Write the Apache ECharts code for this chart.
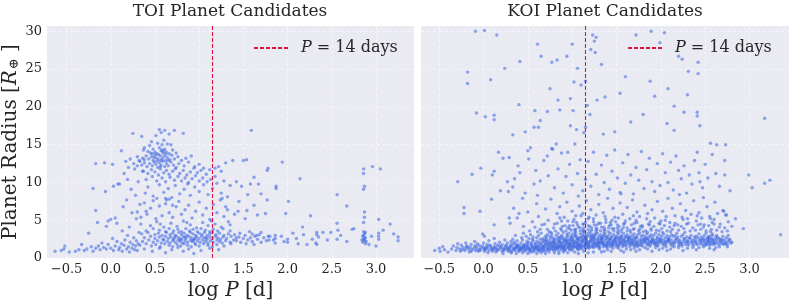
<!DOCTYPE html>
<html><head><meta charset="utf-8">
<script src="https://cdn.jsdelivr.net/npm/echarts@6/dist/echarts.min.js"></script>
<style>html,body{margin:0;padding:0;background:#fff}#c{width:793px;height:306px}</style>
</head><body><div id="c"></div>
<script>
// ---------- data ----------
const xTicks = [-0.5, 0, 0.5, 1, 1.5, 2, 2.5, 3];
const yTicks = [0, 5, 10, 15, 20, 25, 30];
const panelTitles = ['TOI Planet Candidates', 'KOI Planet Candidates'];
const periodLineDays = 14;
const legendLabel = 'P = 14 days';

// TOI candidates: [log10 P (days), radius (Earth radii)]
const toiPoints = [
[-0.63,0.9],[-0.56,1.0],[-0.53,1.2],[-0.52,1.6],[-0.47,0.8],[-0.4,0.9],[-0.36,1.1],[-0.33,1.8],[-0.3,1.0],[-0.27,1.2],[-0.25,3.3],[-0.22,1.5],[-0.2,0.9],[-0.17,1.3],[-0.14,1.6],[-0.12,1.1],[-0.1,2.0],[-0.08,1.4],[-0.05,1.2],[-0.03,1.8],[0.0,1.3],[0.02,2.6],[0.03,1.0],[0.05,1.6],[0.07,2.2],[0.09,1.1],[0.1,1.4],[0.12,1.9],[0.13,0.9],[0.15,1.7],[0.16,2.4],[0.18,1.2],[0.19,3.0],[0.2,1.5],[0.21,0.8],[0.22,2.1],[0.24,1.3],[0.25,1.8],[0.26,2.7],[0.27,1.1],[0.28,1.6],[0.29,2.3],[0.3,1.0],[0.31,1.9],[0.32,3.4],
[-0.2,9.2],[-0.17,6.3],[-0.15,4.7],[-0.17,12.5],[-0.07,12.6],[-0.06,8.8],[-0.05,4.2],[-0.03,4.9],[0.0,5.1],[0.02,12.4],[0.03,9.5],[0.05,5.3],[0.07,4.6],[0.08,9.8],[0.1,9.8],[0.12,14.2],[0.13,3.6],[0.14,6.8],[0.15,11.2],[0.17,12.8],[0.18,7.7],[0.19,10.4],[0.2,12.0],[0.21,4.1],[0.22,13.1],[0.23,9.1],[0.24,6.0],[0.25,16.5],[0.26,12.5],[0.27,11.8],[0.28,8.3],[0.29,5.2],[0.3,13.4],[0.31,10.1],[0.32,12.9],[0.33,7.1],[0.34,4.5],[0.35,16.1],[0.36,11.5],[0.37,14.3],[0.38,13.0],[0.39,8.6],[0.4,6.2],
[0.42,14.1],[0.45,13.9],[0.48,14.4],[0.5,14.0],[0.52,13.8],[0.55,14.6],[0.57,14.2],[0.59,13.9],[0.61,14.4],[0.63,14.0],[0.66,13.8],[0.7,14.3],[0.74,13.9],[0.38,14.6],[0.53,15.2],[0.58,15.0],[0.46,15.4],[0.6,15.6],[0.64,15.1],[0.51,16.2],[0.55,17.0],[0.57,16.6],[0.61,16.9],[0.66,16.4],[0.72,16.9],[0.82,16.5],[0.44,14.9],[0.68,15.0],
[0.36,13.2],[0.4,13.5],[0.43,13.1],[0.46,13.4],[0.48,12.9],[0.5,13.6],[0.52,13.2],[0.54,13.0],[0.56,13.5],[0.58,13.1],[0.6,13.4],[0.62,12.9],[0.64,13.3],[0.67,13.0],[0.69,13.6],[0.72,13.1],[0.76,13.4],[0.8,12.9],[0.85,13.2],[0.91,13.5],[0.33,12.8],
[0.35,12.3],[0.38,12.6],[0.41,12.1],[0.44,12.5],[0.47,12.2],[0.49,12.7],[0.51,12.4],[0.53,12.0],[0.55,12.6],[0.57,12.3],[0.59,12.8],[0.61,12.1],[0.63,12.5],[0.65,12.2],[0.68,12.7],[0.71,12.3],[0.74,12.0],[0.77,12.5],[0.83,12.2],[0.88,12.7],[0.95,12.1],[1.0,12.4],[1.05,11.9],[0.3,12.2],
[0.54,13.7],[0.57,12.9],[0.6,14.1],[0.49,13.3],[0.62,13.7],[0.52,12.8],[0.65,12.9],[0.58,14.3],[0.47,13.8],[0.56,12.1],
[0.37,11.5],[0.42,11.2],[0.46,11.7],[0.5,11.4],[0.54,11.0],[0.56,11.8],[0.6,11.3],[0.63,11.6],[0.66,11.1],[0.7,11.5],[0.73,11.8],[0.78,11.2],[0.82,11.6],[0.86,11.0],[0.9,11.4],[0.94,11.9],[0.98,11.3],[1.02,11.6],[1.08,11.1],[1.12,11.7],
[0.4,10.4],[0.47,10.8],[0.52,10.2],[0.58,10.6],[0.62,10.1],[0.67,10.7],[0.72,10.3],[0.76,10.8],[0.8,10.2],[0.84,10.6],[0.88,10.0],[0.92,10.5],[0.96,10.9],[1.0,10.2],[1.04,10.6],[1.09,10.1],[1.13,10.4],[1.18,10.8],
[0.42,9.4],[0.48,8.2],[0.55,9.7],[0.6,8.7],[0.65,9.2],[0.69,8.0],[0.73,9.6],[0.78,8.5],[0.83,9.1],[0.87,9.8],[0.9,8.3],[0.95,9.4],[1.0,8.8],[1.05,9.7],[1.1,8.4],[1.15,9.2],[1.2,9.9],[1.25,8.6],[0.62,7.9],[0.63,7.7],[0.66,7.8],
[0.3,6.1],[0.34,5.4],[0.38,7.3],[0.41,5.8],[0.45,6.6],[0.48,7.6],[0.51,5.2],[0.55,6.9],[0.58,5.6],[0.62,7.2],[0.66,6.0],[0.7,5.4],[0.74,6.8],[0.77,7.5],[0.8,5.8],[0.84,6.4],[0.88,7.0],[0.92,5.3],[0.96,6.2],[1.0,7.4],[1.04,5.7],[1.08,6.6],[1.12,5.1],[1.16,7.1],[1.2,6.0],[1.24,7.7],[1.28,5.5],[1.32,6.4],[0.52,7.9],[0.7,7.0],
[0.45,4.3],[0.52,4.8],[0.6,4.1],[0.68,4.6],[0.75,4.2],[0.82,4.9],[0.9,4.4],[0.97,4.0],[1.04,4.7],[1.1,4.3],[1.18,4.5],[1.25,4.1],[1.33,4.8],[0.56,4.5],[0.86,4.7],[1.14,4.9],
[0.4,3.6],[0.48,3.9],[0.55,3.7],[0.62,3.5],[0.66,3.9],[0.71,3.6],[0.76,3.8],[0.8,3.5],[0.85,3.9],[0.89,3.6],[0.93,3.8],[0.98,3.5],[1.02,3.9],[1.07,3.7],[1.12,3.5],[1.16,3.8],[1.21,3.6],[1.27,3.9],[1.35,3.6],
[0.35,3.2],[0.42,3.4],[0.5,3.1],[0.54,3.3],[0.58,3.0],[0.63,3.4],[0.67,3.1],[0.7,3.3],[0.73,3.0],[0.77,3.4],[0.8,3.1],[0.83,3.3],[0.86,3.0],[0.9,3.4],[0.93,3.2],[0.96,3.0],[1.0,3.3],[1.03,3.1],[1.06,3.4],[1.09,3.0],[1.12,3.2],[1.15,3.4],[1.19,3.1],[1.23,3.3],[1.28,3.0],[1.33,3.2],[1.4,3.1],
[0.38,2.7],[0.45,2.9],[0.5,2.6],[0.55,2.8],[0.59,2.5],[0.62,2.9],[0.65,2.6],[0.68,2.8],[0.71,2.5],[0.74,2.9],[0.77,2.7],[0.79,2.5],[0.82,2.8],[0.85,2.6],[0.88,2.9],[0.91,2.7],[0.94,2.5],[0.97,2.8],[1.0,2.6],[1.03,2.9],[1.06,2.7],[1.09,2.5],[1.12,2.8],[1.15,2.6],[1.18,2.9],[1.21,2.7],[1.24,2.5],[1.27,2.8],[1.31,2.6],[1.36,2.9],[1.42,2.7],[0.72,2.7],[0.84,2.8],[0.95,2.6],[1.08,2.7],
[0.36,2.2],[0.43,2.4],[0.48,2.1],[0.53,2.3],[0.57,2.0],[0.6,2.4],[0.64,2.2],[0.67,2.0],[0.7,2.3],[0.73,2.1],[0.76,2.4],[0.78,2.2],[0.81,2.0],[0.84,2.3],[0.87,2.1],[0.9,2.4],[0.92,2.2],[0.95,2.0],[0.98,2.3],[1.01,2.1],[1.04,2.4],[1.07,2.2],[1.1,2.0],[1.13,2.3],[1.16,2.1],[1.2,2.4],[1.23,2.2],[1.26,2.0],[1.3,2.3],[1.35,2.1],[1.39,2.4],[0.8,2.45],[0.93,2.35],
[0.33,1.7],[0.4,1.9],[0.46,1.6],[0.51,1.8],[0.56,1.5],[0.61,1.9],[0.66,1.7],[0.7,1.5],[0.75,1.8],[0.79,1.6],[0.83,1.9],[0.87,1.7],[0.91,1.5],[0.96,1.8],[1.0,1.6],[1.05,1.9],[1.1,1.7],[1.15,1.5],[1.2,1.8],[1.28,1.6],[1.36,1.9],
[0.38,1.2],[0.47,0.9],[0.55,1.3],[0.62,0.7],[0.69,1.1],[0.76,1.4],[0.82,0.9],[0.88,1.2],[0.94,0.6],[1.02,1.0],[1.12,1.3],[1.22,1.1],
[1.42,2.3],[1.45,2.8],[1.47,2.1],[1.5,2.6],[1.52,3.0],[1.55,2.4],[1.58,2.7],[1.6,2.2],[1.63,2.9],[1.66,2.5],[1.7,2.1],[1.73,2.7],[1.76,2.3],[1.8,2.9],[1.84,2.4],[1.46,3.3],[1.57,3.5],[1.62,1.8],[1.68,3.1],[1.53,1.9],
[1.22,12.1],[1.25,11.5],[1.3,12.6],[1.18,11.9],[1.28,10.2],[1.35,9.6],[1.38,12.9],[1.42,10.1],[1.48,9.5],[1.5,12.9],[1.32,8.1],[1.45,7.5],[1.55,8.4],[1.4,5.8],[1.52,5.2],[1.35,4.4],[1.26,7.9],[1.3,6.8],[1.44,6.2],[1.58,9.8],[1.62,10.7],[1.54,6.3],[1.62,7.0],
[2.86,11.8],[2.86,11.2],[2.96,12.1],[3.05,11.8],[2.87,9.5],[2.86,9.1],[2.87,6.1],[2.87,5.4],[2.86,4.7],[3.03,5.1],[3.16,4.5],[3.2,3.2],[3.25,2.8],[3.25,2.3],[3.03,3.3],[3.03,2.9],[3.03,2.5],[2.86,3.5],[2.87,3.2],[2.85,2.9],[2.88,2.7],[2.86,2.5],[2.87,2.3],[2.85,2.1],[2.88,1.9],[2.86,3.0],[2.87,2.6],[2.84,2.4],[2.89,2.2],[2.88,3.4],[2.92,1.8],[2.75,3.9],[2.73,3.8],[2.56,4.6],[2.57,3.7],[2.56,2.5],[2.49,3.4],[2.4,3.4],[2.35,2.8],[2.33,3.4],[2.33,3.1],[2.32,2.0],[2.33,1.8],[2.22,1.8],[2.17,4.1],[2.18,3.1],[2.0,2.5],[2.0,2.1],[1.86,3.0],[1.86,2.6],[1.86,2.0],[1.78,2.9],[1.79,2.4],[1.65,3.0],[1.7,3.4],[1.6,3.2],
[1.59,16.9],[1.535,13.0],[1.78,11.9],[1.77,11.6],[1.94,12.7],[2.14,10.5],[1.87,9.5],[1.87,9.2],[1.67,9.8],[1.7,8.5],[1.77,7.7],[2.01,7.5],[1.98,5.9],[1.66,5.7],[1.75,5.9],[2.26,5.6],[2.56,8.4],[2.67,6.9],[1.93,2.9],[2.1,2.6],[2.06,3.3],[2.45,2.4],[2.6,3.0],[2.67,2.2],[3.08,3.7],[2.95,2.9],[3.0,1.6],[2.28,2.5],[2.12,1.9],[1.96,2.2]
];

// KOI candidates: [log10 P (days), radius (Earth radii)]
const koiPoints = [
[-0.55,1.0],[-0.5,1.3],[-0.49,0.9],[-0.46,1.5],[-0.44,1.1],[-0.4,0.8],[-0.36,1.2],[-0.34,1.6],[-0.31,1.0],[-0.3,1.4],[-0.29,1.9],[-0.27,1.2],[-0.26,0.9],[-0.25,1.7],[-0.24,1.1],[-0.23,1.4],[-0.21,1.0],[-0.2,1.3],[-0.2,2.0],[-0.19,1.6],[-0.17,1.2],[-0.16,0.8],[-0.18,1.5],[-0.14,1.8],[-0.13,1.1],[-0.15,1.4],[-0.14,0.9],[-0.11,1.3],[-0.1,1.6],[-0.09,1.0],[-0.1,2.2],[-0.07,1.2],[-0.08,1.5],[-0.06,0.9],[-0.07,1.9],[-0.04,1.1],[-0.03,1.4],[-0.05,1.7],[-0.04,1.0],
[0.0,1.3],[-0.01,1.6],[0.01,0.9],[0.0,2.0],[0.01,1.2],[0.03,1.5],[0.02,1.1],[0.04,1.8],[0.03,1.3],[0.06,1.0],[0.05,1.4],[0.07,1.7],[0.06,2.3],[0.09,1.2],[0.08,1.6],[0.1,0.9],[0.09,1.3],[0.12,1.5],[0.11,1.1],[0.13,1.9],[0.12,1.3],[0.12,2.6],[0.15,1.0],[0.14,1.4],[0.16,1.7],[0.15,1.2],[0.18,1.6],[0.17,1.1],[0.19,1.3],[0.18,2.1],[0.21,0.9],[0.2,1.5],[0.22,1.2],[0.21,1.8],[0.24,1.4],[0.23,1.0],[0.25,1.7],[0.24,1.2],[0.24,2.4],[0.27,1.3],[0.26,1.6],[0.28,0.9],[0.27,1.1],[0.27,2.0],
[0.3,1.5],[0.29,1.2],[0.31,1.8],[0.3,1.0],[0.31,2.2],[0.29,1.4],[0.33,1.1],[0.32,1.6],[0.34,1.3],[0.33,2.5],[0.32,0.8],[0.34,1.9],[0.36,1.4],[0.35,1.2],[0.37,1.7],[0.36,1.0],[0.35,2.1],[0.37,1.5],[0.36,3.0],[0.39,1.3],[0.38,1.8],[0.4,1.1],[0.39,1.5],[0.38,2.3],[0.4,0.9],[0.39,1.6],[0.42,1.2],[0.41,1.6],[0.43,1.4],[0.42,2.0],[0.41,1.0],[0.43,2.7],[0.42,1.3],[0.45,1.5],[0.44,1.1],[0.46,1.8],[0.45,1.3],[0.44,2.4],[0.46,0.9],[0.45,1.7],[0.45,3.3],[0.48,1.4],[0.47,1.2],[0.49,1.9],[0.48,1.0],[0.47,1.6],[0.49,2.2],[0.48,2.9],
[0.51,1.3],[0.5,1.7],[0.52,1.1],[0.51,2.1],[0.5,1.5],[0.52,0.8],[0.51,2.6],[0.5,1.2],[0.54,1.6],[0.53,1.0],[0.55,1.4],[0.54,2.0],[0.53,1.2],[0.55,2.5],[0.54,1.8],[0.53,3.1],[0.57,1.2],[0.56,1.5],[0.58,1.9],[0.57,1.1],[0.56,2.3],[0.58,1.4],[0.57,0.9],[0.56,2.8],[0.6,1.4],[0.59,1.8],[0.61,1.0],[0.6,2.2],[0.59,1.6],[0.61,1.2],[0.6,2.7],[0.61,3.5],[0.59,1.3],[0.63,1.3],[0.62,1.7],[0.64,2.0],[0.63,1.1],[0.62,1.5],[0.64,2.5],[0.63,0.9],[0.62,3.0],[0.66,1.6],[0.65,1.2],[0.67,2.1],[0.66,1.4],[0.65,1.8],[0.67,2.6],[0.66,1.0],[0.65,3.3],[0.67,2.3],[0.69,1.5],[0.68,1.1],[0.7,1.9],[0.69,2.4],[0.68,1.3],[0.7,2.9],[0.69,1.7],[0.68,0.9],[0.7,2.2],
[0.72,1.4],[0.71,1.8],[0.73,2.2],[0.72,1.2],[0.71,2.7],[0.73,1.6],[0.72,3.1],[0.71,1.0],[0.73,2.0],[0.72,3.8],[0.75,1.7],[0.74,1.3],[0.76,2.1],[0.75,2.5],[0.74,1.1],[0.76,1.5],[0.75,2.9],[0.74,1.9],[0.76,3.4],[0.78,1.5],[0.77,1.9],[0.79,2.3],[0.78,1.2],[0.77,2.8],[0.79,1.4],[0.78,1.7],[0.77,3.2],[0.79,1.0],[0.78,2.1],[0.81,1.6],[0.8,2.0],[0.82,1.3],[0.81,2.5],[0.8,1.8],[0.82,3.0],[0.81,1.1],[0.8,2.2],[0.82,1.4],[0.81,3.6],[0.84,1.4],[0.83,1.8],[0.85,2.2],[0.84,2.7],[0.83,1.2],[0.85,1.6],[0.84,3.3],[0.83,2.0],[0.85,0.9],[0.84,2.4],
[0.87,1.7],[0.86,2.1],[0.88,1.5],[0.87,2.6],[0.86,1.3],[0.88,3.0],[0.87,1.9],[0.86,2.3],[0.88,1.1],[0.87,3.9],[0.86,1.6],[0.9,1.5],[0.89,1.9],[0.91,2.4],[0.9,1.3],[0.89,2.8],[0.91,1.7],[0.9,3.4],[0.89,2.1],[0.91,1.1],[0.9,2.5],[0.89,4.2],[0.93,1.8],[0.92,2.2],[0.94,1.4],[0.93,2.7],[0.92,1.6],[0.94,3.1],[0.93,2.0],[0.92,1.2],[0.94,2.4],[0.93,3.6],[0.92,1.0],[0.96,1.6],[0.95,2.0],[0.97,2.5],[0.96,1.3],[0.95,2.9],[0.97,1.8],[0.96,3.3],[0.95,2.2],[0.97,1.1],[0.96,1.5],[0.95,4.0],[0.99,1.7],[0.98,2.3],[1.0,1.4],[0.99,2.7],[0.98,1.9],[1.0,3.2],[0.99,2.1],[0.98,1.2],[1.0,2.5],[0.99,3.7],[0.98,1.5],[1.0,1.0],
[1.02,1.9],[1.01,2.4],[1.03,1.5],[1.02,2.8],[1.01,1.3],[1.03,3.1],[1.02,2.2],[1.01,1.7],[1.03,3.5],[1.02,2.0],[1.01,4.3],[1.05,1.6],[1.04,2.1],[1.06,2.6],[1.05,1.4],[1.04,3.0],[1.06,1.8],[1.05,2.4],[1.04,3.4],[1.06,1.2],[1.05,2.0],[1.04,3.8],[1.06,1.5],[1.08,1.8],[1.07,2.3],[1.09,1.5],[1.08,2.7],[1.07,2.0],[1.09,3.2],[1.08,1.3],[1.07,2.5],[1.09,3.6],[1.08,1.7],[1.07,4.1],[1.11,2.0],[1.1,1.6],[1.12,2.5],[1.11,2.9],[1.1,1.4],[1.12,3.3],[1.11,2.2],[1.1,1.8],[1.12,3.7],[1.11,1.2],[1.1,2.7],[1.12,4.5],[1.14,1.7],[1.13,2.2],[1.15,2.6],[1.14,1.5],[1.13,3.0],[1.15,1.9],[1.14,3.5],[1.13,2.4],[1.15,1.3],[1.14,2.8],[1.13,4.0],
[1.17,1.9],[1.16,2.4],[1.18,1.6],[1.17,2.9],[1.16,2.1],[1.18,3.3],[1.17,1.4],[1.16,2.6],[1.18,3.8],[1.17,1.8],[1.16,2.2],[1.2,2.1],[1.19,1.7],[1.21,2.6],[1.2,3.0],[1.19,1.5],[1.21,2.3],[1.2,3.5],[1.19,1.9],[1.21,2.8],[1.2,4.2],[1.19,1.3],[1.23,1.8],[1.22,2.3],[1.24,2.8],[1.23,1.6],[1.22,3.2],[1.24,2.0],[1.23,2.5],[1.22,3.7],[1.24,1.4],[1.23,2.9],[1.26,2.0],[1.25,2.5],[1.27,1.7],[1.26,3.0],[1.25,2.2],[1.27,3.4],[1.26,1.5],[1.25,2.7],[1.27,4.0],[1.26,1.9],[1.29,1.9],[1.28,2.4],[1.3,2.9],[1.29,1.6],[1.28,3.3],[1.3,2.1],[1.29,2.6],[1.28,3.8],[1.3,1.4],[1.29,2.2],[1.28,4.4],
[1.32,2.1],[1.31,1.8],[1.33,2.6],[1.32,3.1],[1.31,1.5],[1.33,2.3],[1.32,3.6],[1.31,2.0],[1.33,2.8],[1.35,2.0],[1.34,2.5],[1.36,1.7],[1.35,3.0],[1.34,2.2],[1.36,3.4],[1.35,1.5],[1.34,2.7],[1.36,4.1],[1.35,1.9],[1.38,1.8],[1.37,2.3],[1.39,2.8],[1.38,1.6],[1.37,3.2],[1.39,2.0],[1.38,2.6],[1.37,3.7],[1.39,1.4],[1.41,2.1],[1.4,2.6],[1.42,1.9],[1.41,3.0],[1.4,1.6],[1.42,2.4],[1.41,3.5],[1.4,2.2],[1.42,4.3],[1.44,1.9],[1.43,2.4],[1.45,2.9],[1.44,1.7],[1.43,3.3],[1.45,2.1],[1.44,2.7],[1.43,1.5],[1.45,3.9],[1.47,2.2],[1.46,1.8],[1.48,2.6],[1.47,3.1],[1.46,2.0],[1.48,2.4],[1.47,3.6],[1.46,1.6],
[1.5,2.0],[1.49,2.5],[1.51,1.7],[1.5,2.9],[1.49,2.2],[1.51,3.4],[1.5,1.5],[1.49,2.7],[1.51,4.0],[1.53,1.9],[1.52,2.3],[1.54,2.8],[1.53,1.6],[1.52,3.2],[1.54,2.1],[1.53,2.5],[1.52,3.7],[1.56,2.1],[1.55,2.6],[1.57,1.8],[1.56,3.0],[1.55,2.3],[1.57,1.5],[1.56,2.8],[1.55,3.5],[1.59,2.0],[1.58,2.4],[1.6,2.9],[1.59,1.7],[1.58,3.3],[1.6,2.2],[1.59,2.6],[1.58,4.1],[1.62,2.2],[1.61,1.9],[1.63,2.7],[1.62,3.1],[1.61,1.6],[1.63,2.4],[1.62,3.6],[1.65,2.0],[1.64,2.5],[1.66,1.8],[1.65,2.9],[1.64,2.3],[1.66,3.4],[1.65,1.5],[1.64,2.7],[1.68,2.1],[1.67,2.6],[1.69,1.7],[1.68,3.0],[1.67,2.4],[1.69,3.8],[1.68,1.9],
[1.71,1.9],[1.7,2.3],[1.72,2.8],[1.71,1.6],[1.7,3.2],[1.72,2.1],[1.71,2.5],[1.74,2.2],[1.73,2.7],[1.75,1.8],[1.74,3.1],[1.73,2.0],[1.75,3.6],[1.74,1.5],[1.77,2.0],[1.76,2.4],[1.78,2.9],[1.77,1.7],[1.76,3.3],[1.78,2.2],[1.77,4.2],[1.8,2.3],[1.79,1.9],[1.81,2.6],[1.8,3.0],[1.79,1.6],[1.81,2.1],[1.8,3.5],[1.83,2.1],[1.82,2.5],[1.84,1.8],[1.83,2.8],[1.82,2.3],[1.84,3.2],[1.86,2.0],[1.85,2.4],[1.87,2.9],[1.86,1.7],[1.85,3.4],[1.87,2.2],[1.86,2.6],[1.89,2.2],[1.88,1.9],[1.9,2.7],[1.89,3.1],[1.88,1.6],[1.9,2.4],[1.89,3.7],
[1.92,2.1],[1.91,2.5],[1.93,1.8],[1.92,3.0],[1.91,2.3],[1.93,2.0],[1.95,2.0],[1.94,2.4],[1.96,2.8],[1.95,1.7],[1.94,3.3],[1.96,2.2],[1.98,2.3],[1.97,1.9],[1.99,2.6],[1.98,3.1],[1.97,1.6],[1.99,2.1],[1.98,3.6],[2.01,2.1],[2.0,2.5],[2.02,1.8],[2.01,2.9],[2.0,2.3],[2.02,3.4],[2.04,2.0],[2.03,2.4],[2.05,2.7],[2.04,1.7],[2.03,3.2],[2.05,2.2],[2.07,2.2],[2.06,1.9],[2.08,2.6],[2.07,3.0],[2.06,1.5],[2.08,2.4],[2.1,2.1],[2.09,2.5],[2.11,1.8],[2.1,2.8],[2.09,2.3],[2.11,3.5],
[2.13,2.0],[2.12,2.4],[2.14,2.9],[2.13,1.6],[2.12,3.1],[2.16,2.3],[2.15,1.9],[2.17,2.6],[2.16,3.0],[2.15,2.1],[2.19,2.1],[2.18,2.5],[2.2,1.7],[2.19,2.8],[2.18,3.3],[2.22,2.0],[2.21,2.4],[2.23,2.9],[2.22,1.8],[2.21,2.2],[2.25,2.2],[2.24,1.9],[2.26,2.6],[2.25,3.1],[2.24,1.6],[2.28,2.1],[2.27,2.5],[2.29,2.8],[2.28,1.8],[2.27,3.4],[2.31,2.0],[2.3,2.3],[2.32,2.7],[2.31,1.7],[2.3,2.2],[2.34,2.2],[2.33,2.6],[2.35,1.9],[2.34,3.0],[2.37,2.1],[2.36,2.4],[2.38,2.8],[2.37,1.7],
[2.4,2.0],[2.39,2.5],[2.41,1.8],[2.4,2.9],[2.39,2.2],[2.43,2.3],[2.42,2.7],[2.44,1.9],[2.43,3.2],[2.46,2.1],[2.45,2.5],[2.47,1.8],[2.46,2.8],[2.45,2.3],[2.49,2.2],[2.48,2.6],[2.5,1.9],[2.49,3.0],[2.48,2.4],[2.5,1.7],[2.52,2.0],[2.51,2.4],[2.53,2.8],[2.52,1.8],[2.51,3.3],[2.53,2.2],[2.52,2.6],[2.55,2.1],[2.54,2.5],[2.56,1.9],[2.55,2.9],[2.54,2.3],[2.56,3.5],[2.55,1.7],[2.54,2.7],[2.58,2.2],[2.57,2.6],[2.59,1.8],[2.58,3.0],[2.57,2.4],[2.59,2.0],[2.58,3.2],
[2.61,2.0],[2.6,2.5],[2.62,2.8],[2.61,1.9],[2.6,2.3],[2.64,2.1],[2.63,2.4],[2.65,1.8],[2.64,2.7],[2.63,3.0],[2.67,2.2],[2.66,2.6],[2.68,1.9],[2.67,2.4],[2.7,2.0],[2.69,2.5],[2.71,1.8],[2.7,2.9],[2.69,2.3],[2.73,2.1],[2.72,2.4],[2.74,2.7],[2.73,1.9],[2.76,2.2],[2.75,1.8],[2.77,2.5],[2.76,3.0],[2.79,2.0],[2.78,2.4],[2.8,2.1],
[1.31,1.2],[1.4,1.1],[1.46,1.3],[1.55,1.0],[1.61,1.2],[1.7,1.3],[1.76,1.1],[1.85,1.2],[1.94,1.4],[2.02,1.3],[2.11,1.2],[2.2,1.4],[2.3,1.3],[2.43,1.4],[2.55,1.3],[2.66,1.5],[1.36,0.9],[1.52,1.3],[1.66,1.1],[1.82,1.4],[1.98,1.1],[2.15,1.5],[2.36,1.4],[2.48,1.5],[2.62,1.4],[2.75,1.5],
[0.52,3.6],[0.58,4.1],[0.64,3.8],[0.69,4.5],[0.74,3.5],[0.79,4.0],[0.83,4.6],[0.88,3.7],[0.92,4.3],[0.97,3.9],[1.01,4.8],[1.03,3.8],[1.06,4.4],[1.09,4.0],[1.13,3.6],[1.15,4.7],[1.18,4.3],[1.22,4.0],[1.24,5.2],[1.27,3.7],[1.3,4.6],[1.33,4.1],[1.36,3.8],[1.38,4.7],[1.41,4.0],[1.44,4.4],[1.47,3.9],[1.49,4.8],[1.53,4.2],[1.56,3.8],[1.59,4.6],[1.62,4.0],[1.65,3.7],[1.67,4.4],[1.7,3.9],[1.73,4.7],[1.76,3.8],[1.79,4.1],[1.83,3.6],[1.86,4.5],[1.89,3.9],[1.92,4.2],[1.95,3.7],[1.98,4.6],[2.01,3.9],[2.04,4.3],[2.07,3.6],[2.1,4.1],[2.13,3.8],[2.16,4.6],[2.2,3.7],[2.23,4.2],[2.26,3.9],[2.29,4.5],[2.33,3.6],[2.36,4.0],[2.39,3.7],[2.42,4.4],[2.45,3.8],[2.48,4.1],[2.51,3.6],[2.54,4.3],[2.57,3.8],[2.6,4.5],[2.63,3.7],[2.66,4.1],[2.69,3.5],[2.72,4.0],[2.75,3.6],[0.86,5.3],[1.04,5.6],[1.19,5.4],[1.37,5.5],[1.52,5.3],[1.69,5.6],[1.84,5.2],[2.06,5.5],[2.24,5.4],[2.41,5.6],[2.56,5.2],
[0.05,0.7],[0.14,0.8],[0.22,0.6],[0.31,0.7],[0.37,0.6],[0.44,0.7],[0.5,0.6],[0.55,0.8],[0.6,0.6],[0.65,0.7],[0.7,0.6],[0.74,0.8],[0.8,0.7],[0.85,0.6],[0.9,0.8],[0.95,0.7],[1.03,0.8],[1.07,0.6],[1.13,0.9],[1.18,0.7],[1.24,0.8],[1.33,0.8],[1.44,0.9],[1.58,0.8],[1.72,0.9],[1.9,0.9],[2.07,1.0],[2.25,1.0],[2.4,1.1],[2.6,1.1],
[0.62,2.1],[0.67,1.5],[0.71,2.4],[0.76,1.2],[0.79,2.6],[0.83,1.5],[0.86,2.8],[0.89,1.4],[0.93,2.3],[0.96,1.9],[0.99,2.9],[1.02,1.6],[1.05,2.8],[1.07,1.1],[1.1,2.3],[1.13,1.6],[1.16,3.0],[1.19,2.2],[1.22,1.5],[1.25,3.1],[1.28,1.8],[1.31,2.5],[1.34,1.9],[1.37,2.9],[1.4,1.8],[1.43,2.6],[1.46,2.3],[1.49,1.8],[1.52,2.7],[1.55,1.9],[1.58,2.3],[1.61,2.8],[1.64,1.9],[1.67,2.2],[1.7,2.7],[1.73,1.7],[1.78,2.5],[1.84,2.6],[1.9,2.0],[1.96,2.6],
[0.3,4.6],[0.38,5.3],[0.45,4.2],[0.5,6.1],[0.55,4.8],[0.6,7.2],[0.62,5.5],[0.66,4.4],[0.7,6.5],[0.73,5.0],[0.76,7.8],[0.8,4.5],[0.83,5.9],[0.86,6.8],[0.88,4.9],[0.91,5.4],[0.94,7.4],[0.97,4.3],[1.0,6.2],[1.02,5.1],[1.05,4.7],[1.08,6.9],[1.1,5.6],[1.13,4.5],[1.16,7.6],[1.18,5.2],[1.21,6.4],[1.24,4.8],[1.27,5.7],[1.3,7.1],[1.32,4.6],[1.35,6.0],[1.38,5.1],[1.4,7.9],[1.43,4.7],[1.46,6.6],[1.48,5.4],[1.51,4.4],[1.54,7.3],[1.57,5.8],[1.6,4.9],[1.62,6.7],[1.65,5.2],[1.68,7.7],[1.7,4.6],[1.73,6.1],[1.76,5.5],[1.79,4.3],[1.82,7.0],[1.85,5.9],[1.88,4.8],[1.9,6.4],[1.93,5.3],[1.96,7.5],[1.99,4.5],[2.02,6.2],[2.05,5.0],[2.08,7.9],[2.1,4.7],[2.13,6.6],[2.16,5.6],[2.19,4.4],[2.22,7.2],[2.25,5.1],[2.28,6.3],[2.31,4.6],[2.34,5.8],[2.37,7.6],[2.4,4.9],[2.43,6.0],[2.46,5.3],[2.49,4.4],[2.52,6.8],[2.55,5.5],[2.58,4.7],[2.61,7.4],[2.64,5.9],[2.67,4.5],[2.7,6.3],[2.73,5.7],[2.76,4.8],[2.8,4.2],[0.95,4.9],[1.12,5.9],[1.25,4.4],[1.45,5.0],[1.58,4.5],[1.72,5.0],[1.87,4.4],[2.0,4.9],[2.15,4.3],[2.3,5.2],[2.45,4.5],[2.6,5.1],[1.07,8.2],[1.55,8.5],[2.21,8.4],[2.48,8.0],
[0.22,13.2],[0.29,13.3],[0.19,8.9],[0.27,10.1],[0.28,8.8],[0.35,10.5],[0.39,12.2],[0.41,11.3],[0.33,9.4],[0.5,14.2],[0.53,14.6],[0.51,13.1],[0.57,9.8],[0.59,11.6],[0.64,10.2],[0.68,12.9],[0.72,13.5],[0.73,10.9],[0.78,14.4],[0.8,9.3],[0.84,11.8],[0.88,13.9],[0.9,8.6],[0.93,10.8],[0.97,12.4],[1.0,9.7],[1.03,15.1],[1.06,11.2],[1.09,13.0],[1.12,8.9],[1.15,10.4],[1.18,12.8],[1.21,9.5],[1.24,14.0],[1.27,11.1],[1.3,8.4],[1.33,12.3],[1.36,10.0],[1.39,13.6],[1.42,9.1],[1.45,11.5],[1.48,14.3],[1.51,10.6],[1.54,8.7],[1.57,12.6],[1.6,9.9],[1.63,13.7],[1.66,11.0],[1.69,8.5],[1.72,12.0],[1.75,10.3],[1.78,14.1],[1.81,9.2],[1.84,11.7],[1.87,13.2],[1.9,10.1],[1.93,8.8],[1.96,12.5],[1.99,9.6],[2.02,13.8],[2.05,11.3],[2.08,10.0],[2.11,12.7],[2.14,9.0],[2.17,13.5],[2.2,11.6],[2.23,10.5],[2.26,12.2],[2.29,8.6],[2.32,11.0],[2.35,9.8],[2.38,12.9],[2.41,14.0],[2.43,11.3],[2.44,10.1],[2.47,9.3],[2.5,12.4],[2.53,10.6],[2.56,15.2],[2.58,13.7],[2.62,11.2],[2.63,15.0],[2.66,9.5],[2.72,12.9],[2.72,11.0],[2.73,15.0],[2.78,8.9],[2.99,11.0],[3.03,9.3],[3.17,9.9],[3.23,10.3],[2.93,3.9],[3.35,3.1],[2.84,5.2],[2.74,5.7],[2.71,6.2],[-0.29,10.1],[-0.22,6.7],[-0.22,5.9],[-0.13,11.1],[-0.03,11.9],[-0.04,6.2],[-0.01,3.2],[0.01,2.9],[0.1,11.0],[0.12,11.5],[0.09,7.8],[0.12,4.4],[0.17,14.0],[0.29,5.3],[0.34,6.6],[0.4,5.9],[0.44,7.9],[0.47,8.6],[0.61,8.3],
[-0.09,30.0],[0.01,30.1],[0.15,29.5],[0.61,28.3],[0.65,26.7],[0.41,26.0],[0.24,25.1],[-0.18,24.6],[-0.18,23.1],[-0.08,19.2],[0.02,18.7],[0.12,18.9],[0.12,18.3],[0.08,23.6],[0.77,25.9],[0.83,26.2],[0.94,26.7],[1.06,25.1],[1.02,23.3],[1.1,22.9],[1.15,23.4],[1.23,29.5],[1.25,28.7],[1.27,29.2],[1.21,27.6],[1.26,27.2],[1.72,29.5],[1.89,30.0],[2.04,29.8],[1.99,28.5],[2.2,26.7],[2.24,26.3],[2.42,25.9],[2.31,24.7],[2.42,24.4],[1.88,23.4],[2.08,22.4],[2.3,21.6],[1.93,21.4],[1.37,21.3],[1.28,20.9],[1.54,21.8],[0.75,22.4],[0.84,20.9],[0.98,21.1],[0.4,20.3],[0.58,19.5],[0.72,19.4],[0.86,19.6],[1.01,19.5],[0.64,18.2],[0.98,17.5],[1.05,17.0],[1.13,16.6],[1.15,17.3],[1.48,16.7],[2.15,20.1],[2.26,19.3],[2.41,19.3],[2.41,18.8],[2.44,17.5],[2.07,17.8],[2.15,16.9],[3.17,18.5],[0.47,16.7],[0.57,17.3],[0.62,17.3],[0.33,16.3],[0.77,14.5],[0.82,15.1],[0.95,14.0],[1.33,25.6],[1.6,24.0],[1.66,18.0],[1.8,19.0],[1.17,20.2],[1.2,19.0],[1.35,16.4],[1.0,28.3]
];

// ---------- chart ----------
const FONT = 'DejaVu Serif';
const TXT = '#262626';
const BG = '#EAEAF2';
const POINT = 'rgba(65,105,225,0.72)';
const RED = '#DC143C';
const logP14 = Math.log10(periodLineDays);

const chart = echarts.init(document.getElementById('c'), null, {renderer: 'canvas'});

const grids = [
  {left: 46, top: 26, width: 368, height: 236.7},
  {left: 421, top: 26, width: 368, height: 236.7}
];
const xRanges = [[-0.722, 3.43], [-0.705, 3.445]];

function fmtX(v) { return (v < 0 ? '\u2212' : '') + Math.abs(v).toFixed(1); }

const xAxes = [0, 1].map(i => ({
  type: 'value', gridIndex: i, min: xRanges[i][0], max: xRanges[i][1],
  axisLine: {show: false}, axisTick: {show: false}, splitLine: {show: false},
  axisLabel: {customValues: xTicks, formatter: fmtX, color: TXT, fontFamily: FONT, fontSize: 13, margin: 5},
  name: '{n|log }{i|P}{n| [d]}', nameLocation: 'middle', nameGap: 18,
  nameTextStyle: {color: TXT, fontFamily: FONT, fontSize: 20,
    rich: {n: {fontFamily: FONT, fontSize: 20, color: TXT}, i: {fontFamily: FONT, fontStyle: 'italic', fontSize: 20, color: TXT}}}
}));

const yAxes = [0, 1].map(i => ({
  type: 'value', gridIndex: i, min: 0, max: 30.7,
  axisLine: {show: false}, axisTick: {show: false}, splitLine: {show: false},
  axisLabel: {show: i === 0, customValues: yTicks, color: TXT, fontFamily: FONT, fontSize: 13, margin: 5},
  name: i === 0 ? '{n|Planet Radius [}{i|R}{s|\u2295}{n| ]}' : '',
  nameLocation: 'middle', nameRotate: 90, nameGap: 25,
  nameTextStyle: {color: TXT, fontFamily: FONT, fontSize: 20,
    rich: {
      n: {fontFamily: FONT, fontSize: 20, color: TXT},
      i: {fontFamily: FONT, fontStyle: 'italic', fontSize: 20, color: TXT},
      s: {fontFamily: FONT, fontSize: 13, color: TXT, verticalAlign: 'bottom', padding: [8, 0, 0, 1]}
    }}
}));

function gridLines() {
  return {
    silent: true, symbol: ['none', 'none'], z: 1, animation: false,
    label: {show: false},
    lineStyle: {color: '#ffffff', width: 0.8, type: [3, 3], opacity: 0.7},
    emphasis: {disabled: true},
    data: xTicks.map(v => ({xAxis: v})).concat(yTicks.map(v => ({yAxis: v})))
  };
}

const series = [];
[toiPoints, koiPoints].forEach((pts, i) => {
  series.push({
    type: 'scatter', xAxisIndex: i, yAxisIndex: i, data: pts,
    symbolSize: 3.4, itemStyle: {color: POINT}, z: 3, silent: true,
    markLine: gridLines()
  });
  series.push({
    type: 'line', name: legendLabel, xAxisIndex: i, yAxisIndex: i, data: [],
    symbol: 'none', showSymbol: false, lineStyle: {color: RED, width: 1.1, type: [4, 2]}, itemStyle: {color: RED},
    markLine: {
      silent: true, symbol: ['none', 'none'], z: 6, animation: false, label: {show: false},
      lineStyle: {color: RED, width: 1.1, type: [4, 2]},
      data: [{xAxis: logP14}]
    }
  });
});

const legendText = {
  color: TXT, fontFamily: FONT, fontSize: 16, padding: [0, 0, 0, 8],
  rich: {
    n: {fontFamily: FONT, fontSize: 16, color: TXT},
    i: {fontFamily: FONT, fontStyle: 'italic', fontSize: 16, color: TXT}
  }
};
const legendFmt = () => '{i|P}{n| = 14 days}';
const legendBase = {top: 40, itemWidth: 34, itemHeight: 10, padding: 0, data: [legendLabel],
  formatter: legendFmt, textStyle: legendText, selectedMode: false,
  itemStyle: {opacity: 0, borderWidth: 0}};

chart.setOption({
  animation: false,
  backgroundColor: '#ffffff',
  grid: grids.map(g => Object.assign({show: true, backgroundColor: BG, borderWidth: 0}, g)),
  xAxis: xAxes,
  yAxis: yAxes,
  legend: [
    Object.assign({left: 253}, legendBase),
    Object.assign({left: 627}, legendBase)
  ],
  graphic: [
    {type: 'text', x: 230, y: 3, silent: true,
      style: {text: panelTitles[0], font: '17px "DejaVu Serif"', fill: TXT, textAlign: 'center'}},
    {type: 'text', x: 605, y: 3, silent: true,
      style: {text: panelTitles[1], font: '17px "DejaVu Serif"', fill: TXT, textAlign: 'center'}}
  ],
  series: series
});
</script>
</body></html>
